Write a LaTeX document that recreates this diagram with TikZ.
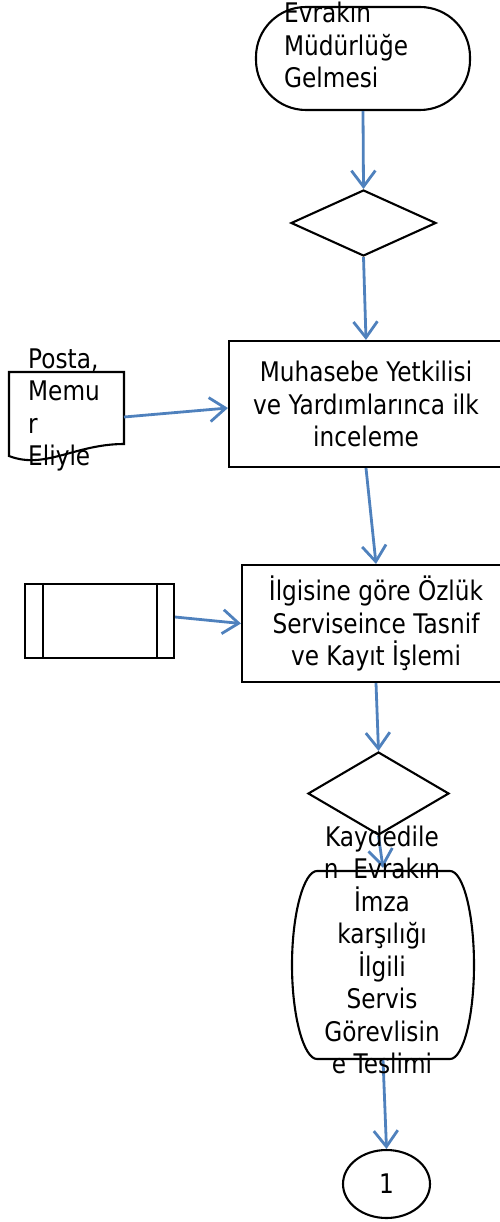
\documentclass[tikz,border=0pt]{standalone}
\usepackage{fontspec}
\setmainfont{DejaVu Sans}[FakeStretch=0.86]
\usetikzlibrary{shapes.geometric,arrows.meta}
\definecolor{arrblue}{HTML}{4F81BD}
\tikzset{
  txt/.style={font=\fontsize{27}{32.5}\selectfont, inner sep=0pt},
  shp/.style={draw=black, line width=2.1pt},
  procbox/.style={shp, rectangle, txt, align=center},
  decision/.style={shp, diamond, inner sep=0pt},
  arr/.style={draw=arrblue, line width=2.8pt, -{Straight Barb[length=16pt,width=24pt,line width=2.8pt]}}
}
\begin{document}
\begin{tikzpicture}[x=1pt,y=-1pt]
\useasboundingbox (0,0) rectangle (500,1222);
% top terminator
\node[shp, rectangle, rounded corners=50pt, minimum width=214pt, minimum height=103pt] (t1) at (363,58.5) {};
\node[txt, anchor=west, align=left] (t1txt) at (284,45) {Evrakın\\Müdürlüğe\\Gelmesi};
% diamond 1
\node[decision, minimum width=145pt, minimum height=66pt] (d1) at (363.5,223) {};
% box 1
\node[procbox, minimum width=274pt, minimum height=126pt] (b1) at (366,404) {Muhasebe Yetkilisi\\ve Yardımlarınca ilk\\inceleme};
% document shape
\draw[shp] (9,372) -- (124,372) -- (124,444) .. controls (75,444) and (45,470) .. (9,456) -- cycle;
\coordinate (docE) at (124,417);
\node[txt, anchor=west, align=left] (doctxt) at (28,410) {Posta,\\Memu\\r\\Eliyle};
% predefined process
\node[shp, rectangle, minimum width=149pt, minimum height=74pt, inner sep=0pt] (pp) at (99.5,621) {};
\draw[shp] ([xshift=19pt]pp.north west) -- ([xshift=19pt]pp.south west);
\draw[shp] ([xshift=-18pt]pp.north east) -- ([xshift=-18pt]pp.south east);
% box 2
\node[procbox, minimum width=268pt, minimum height=117pt] (b2) at (376,623.5) {İlgisine göre Özlük\\Serviseince Tasnif\\ve Kayıt İşlemi};
% diamond 2
\node[decision, minimum width=141pt, minimum height=83pt] (d2) at (378.5,793.5) {};
% bottom terminator
\node[rectangle, minimum width=182pt, minimum height=188pt, inner sep=0pt] (t2) at (383,965) {};
\draw[shp] (317,871) -- (450,871) .. controls (463,871) and (474,913) .. (474,965)
  .. controls (474,1017) and (463,1059) .. (450,1059) -- (317,1059)
  .. controls (304,1059) and (292,1017) .. (292,965)
  .. controls (292,913) and (304,871) .. (317,871) -- cycle;
% connector circle
\node[shp, ellipse, minimum width=87pt, minimum height=68pt, inner sep=0pt, txt] (c1) at (386.5,1184) {1};
% arrows
\draw[arr] (t1.south) -- (d1.north);
\draw[arr] (d1.south) -- (b1.north);
\draw[arr] (docE) -- ([yshift=-4pt]b1.west);
\draw[arr] (b1.south) -- (b2.north);
\draw[arr] ([yshift=4pt]pp.east) -- (b2.west);
\draw[arr] (b2.south) -- (d2.north);
\draw[arr] (d2.south) -- ([yshift=3pt]t2.north);
\draw[arr] (t2.south) -- (c1.north);
% bottom terminator text (drawn over the arrow)
\node[txt, align=center] (t2txt) at (382,950) {Kaydedile\\n\ \ Evrakın\\İmza\\karşılığı\\İlgili\\Servis\\Görevlisin\\e Teslimi};
\end{tikzpicture}
\end{document}
